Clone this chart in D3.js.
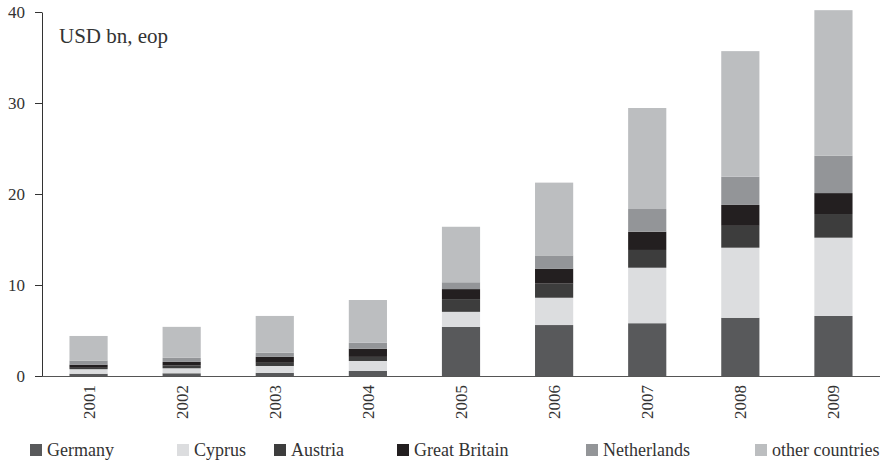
<!DOCTYPE html>
<html>
<head>
<meta charset="utf-8">
<script src="https://cdn.jsdelivr.net/npm/d3@7"></script>
<style>
  html, body { margin: 0; padding: 0; background: #fff; }
  svg { display: block; font-family: "Liberation Serif", "DejaVu Serif", serif; }
</style>
</head>
<body>
<svg id="chart" width="880" height="461"></svg>
<script>
// Stock of investment by source country, USD bn, end of period
const years = ["2001", "2002", "2003", "2004", "2005", "2006", "2007", "2008", "2009"];
const seriesNames = ["Germany", "Cyprus", "Austria", "Great Britain", "Netherlands", "other countries"];
const germany   = [0.25, 0.3, 0.35, 0.55, 5.4, 5.6, 5.8, 6.4, 6.6];
const cyprus    = [0.5, 0.55, 0.75, 1.1, 1.65, 3.0, 6.1, 7.7, 8.6];
const austria   = [0.15, 0.3, 0.35, 0.45, 1.4, 1.55, 1.95, 2.4, 2.6];
const britain   = [0.35, 0.4, 0.65, 0.9, 1.1, 1.65, 2.0, 2.3, 2.3];
const netherlands = [0.45, 0.45, 0.45, 0.65, 0.75, 1.45, 2.5, 3.1, 4.1];
const others    = [2.7, 3.4, 4.05, 4.7, 6.1, 8.0, 11.1, 13.8, 16.0];
const yTicks = [0, 10, 20, 30, 40];
const unitLabel = "USD bn, eop";

const seriesValues = [germany, cyprus, austria, britain, netherlands, others];
const colors = ["#58595b", "#dcdddf", "#3d3d3d", "#231f20", "#939598", "#bcbec0"];

const rows = years.map((yr, i) => {
  const r = { year: yr };
  seriesNames.forEach((s, k) => { r[s] = seriesValues[k][i]; });
  return r;
});

const svg = d3.select("#chart");
const plotLeft = 42, plotRight = 880, plotTop = 12, plotBottom = 376;

const x = d3.scaleBand().domain(years).range([plotLeft, plotRight])
  .paddingInner(0.59).paddingOuter(0.295);
const y = d3.scaleLinear().domain([0, 40]).range([plotBottom, plotTop]);
const color = d3.scaleOrdinal().domain(seriesNames).range(colors);

const stacked = d3.stack().keys(seriesNames)(rows);

svg.append("g").selectAll("g")
  .data(stacked).join("g")
  .attr("fill", d => color(d.key))
  .selectAll("rect")
  .data(d => d).join("rect")
  .attr("x", d => x(d.data.year))
  .attr("width", x.bandwidth())
  .attr("y", d => y(d[1]))
  .attr("height", d => y(d[0]) - y(d[1]));

// y axis
const yAxis = svg.append("g")
  .attr("transform", `translate(${plotLeft},0)`)
  .call(d3.axisLeft(y).tickValues(yTicks).tickSize(7).tickPadding(10).tickSizeOuter(0));
yAxis.select(".domain").attr("stroke", "#333");
yAxis.selectAll(".tick line").attr("stroke", "#333");
yAxis.selectAll(".tick text")
  .attr("fill", "#333")
  .style("font-size", "17px")
  .style("font-family", "'Liberation Serif', serif");

// x axis
const xAxis = svg.append("g")
  .attr("transform", `translate(0,${plotBottom})`)
  .call(d3.axisBottom(x).tickSize(0).tickSizeOuter(0));
xAxis.select(".domain").attr("stroke", "#555").attr("d", `M${plotLeft},0.5H${plotRight}`);
xAxis.selectAll(".tick text")
  .attr("fill", "#333")
  .style("font-size", "17px")
  .style("font-family", "'Liberation Serif', serif")
  .attr("text-anchor", "end")
  .attr("transform", "rotate(-90)")
  .attr("x", -9)
  .attr("y", 0)
  .attr("dy", "0.35em");

// unit label
svg.append("text")
  .attr("x", 59).attr("y", 43)
  .attr("fill", "#333")
  .style("font-size", "21px")
  .text(unitLabel);

// legend
const legendX = [30, 177, 274, 397, 586, 755];
const legend = svg.append("g").selectAll("g")
  .data(seriesNames).join("g")
  .attr("transform", (d, i) => `translate(${legendX[i]},444)`);
legend.append("rect")
  .attr("width", 12).attr("height", 12)
  .attr("fill", d => color(d));
legend.append("text")
  .attr("x", 17).attr("y", 12)
  .attr("fill", "#333")
  .style("font-size", "18px")
  .text(d => d);
</script>
</body>
</html>
